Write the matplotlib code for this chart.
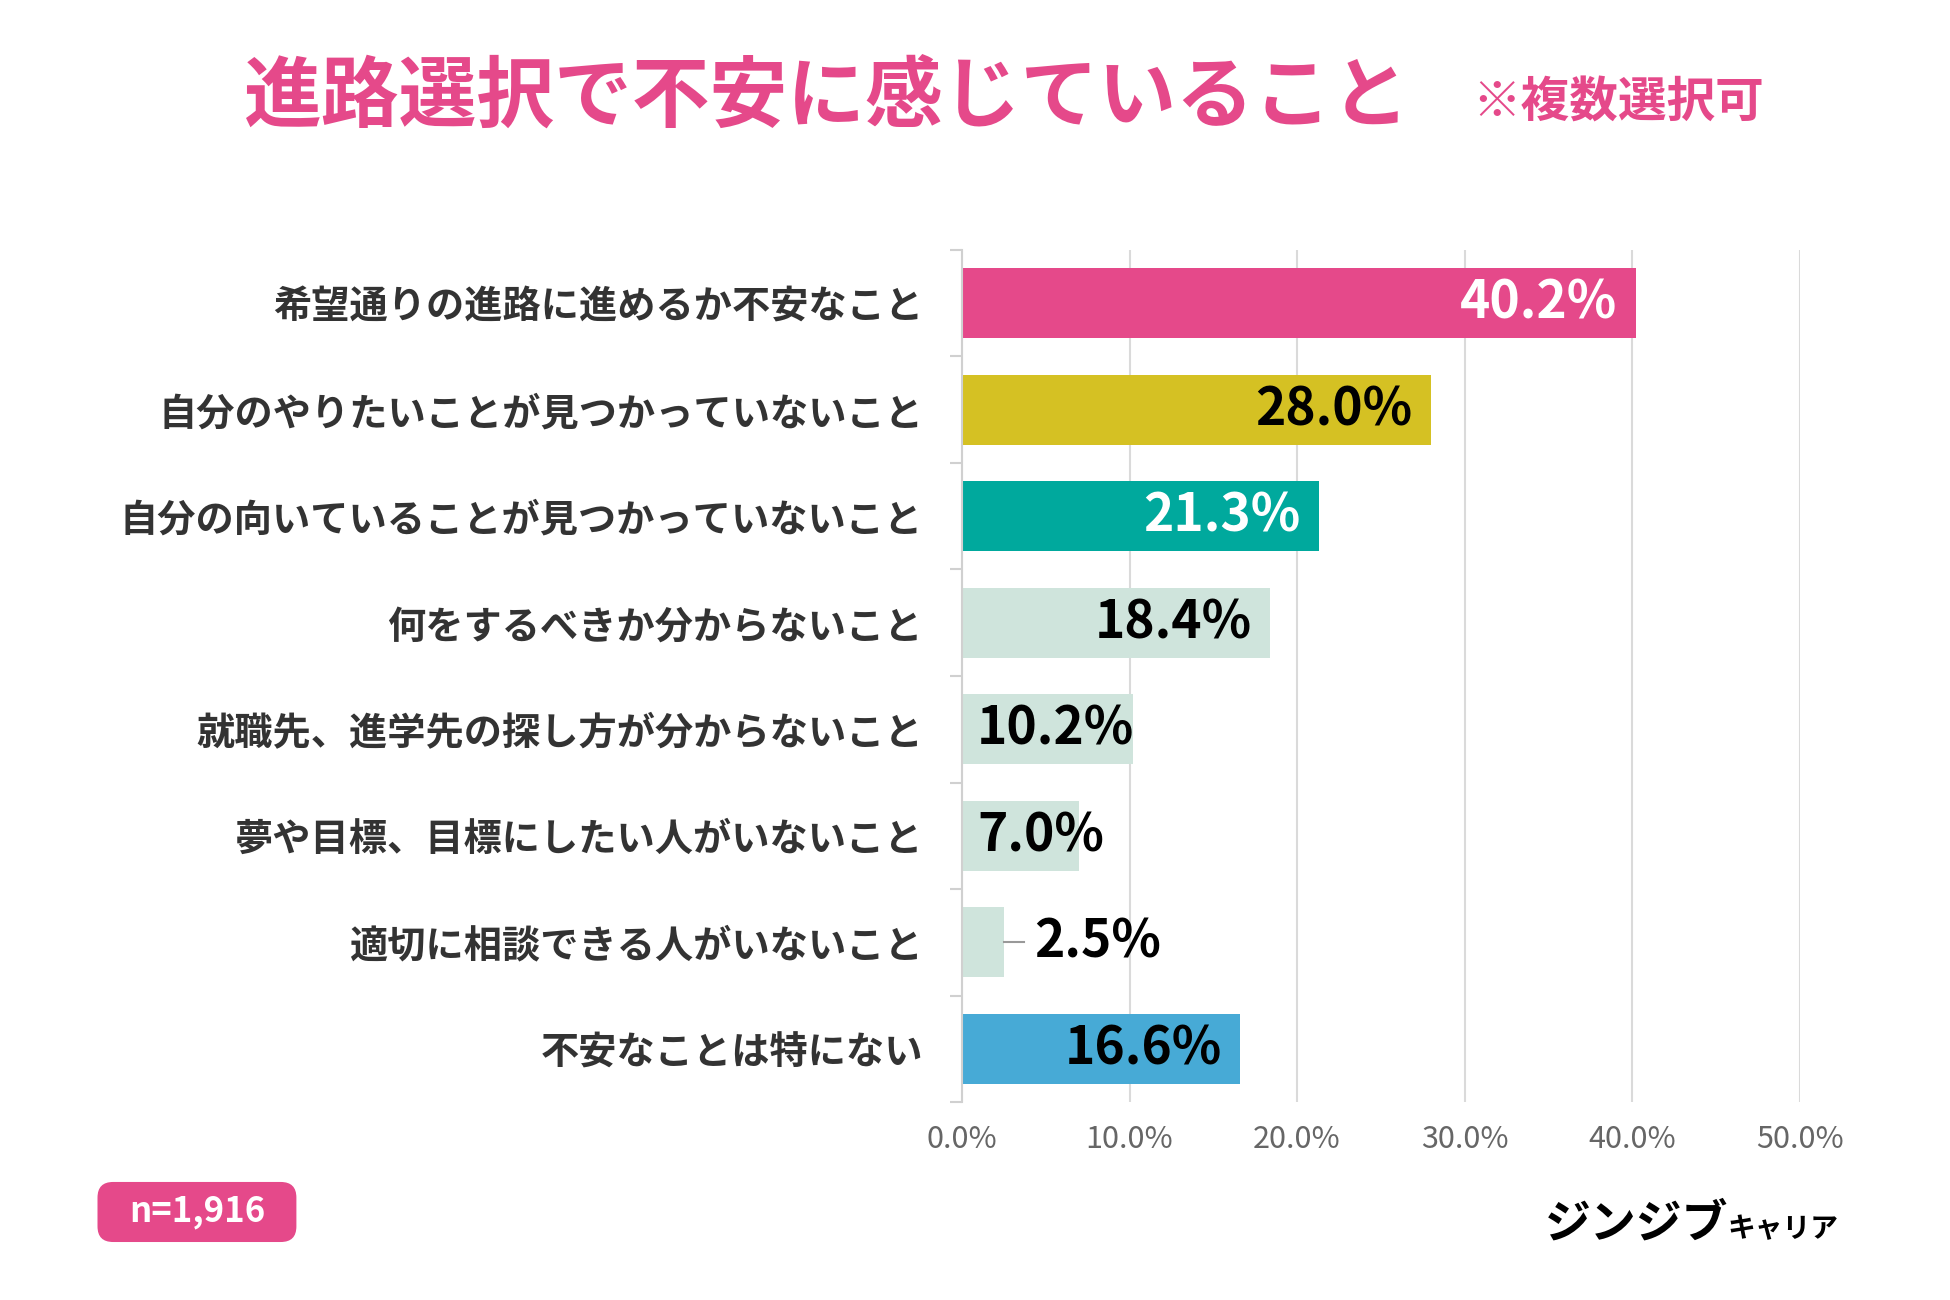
import matplotlib
matplotlib.use("Agg")
import matplotlib.pyplot as plt
from matplotlib.patches import FancyBboxPatch

plt.rcParams['font.family'] = ['Noto Sans CJK JP', 'DejaVu Sans']

# data
categories = [
    "希望通りの進路に進めるか不安なこと",
    "自分のやりたいことが見つかっていないこと",
    "自分の向いていることが見つかっていないこと",
    "何をするべきか分からないこと",
    "就職先、進学先の探し方が分からないこと",
    "夢や目標、目標にしたい人がいないこと",
    "適切に相談できる人がいないこと",
    "不安なことは特にない",
]
values = [40.2, 28.0, 21.3, 18.4, 10.2, 7.0, 2.5, 16.6]
x_ticks = [0, 10, 20, 30, 40, 50]
n_label = "n=1,916"

PINK = "#E5498A"
bar_colors = [PINK, "#D5C123", "#00A99D", "#CFE4DC", "#CFE4DC", "#CFE4DC", "#CFE4DC", "#47AAD6"]
label_colors = ["white", "black", "white", "black", "black", "black", "black", "black"]

fig = plt.figure(figsize=(19.5, 13), dpi=100)
ax = fig.add_axes([0.4933, 0.1523, 0.4297, 0.6554])

y = list(range(len(categories)))
ax.barh(y, values, height=0.66, color=bar_colors, zorder=2)
ax.set_ylim(len(categories) - 0.5, -0.5)
ax.set_xlim(0, 50)

# grid and axes
ax.set_xticks(x_ticks)
ax.set_xticklabels([f"{t:.1f}%" for t in x_ticks], fontsize=22, color="#666666")
ax.tick_params(axis="x", length=0, pad=16)
ax.xaxis.grid(True, color="#DADADA", linewidth=1.5, zorder=0)
for s in ["top", "right", "bottom"]:
    ax.spines[s].set_visible(False)
ax.spines["left"].set_color("#D0D0D0")
ax.spines["left"].set_linewidth(1.5)

ax.set_yticks(y)
ax.set_yticklabels(categories, fontsize=27.5, fontweight="bold", color="#333333")
ax.tick_params(axis="y", length=0, pad=28)
ax.set_yticks([i - 0.5 for i in range(len(categories) + 1)], minor=True)
ax.tick_params(axis="y", which="minor", length=9, color="#D0D0D0", width=1.5)

# value labels
for i, v in enumerate(values):
    txt = f"{v:.1f}%"
    if v >= 15:
        ax.text(v - 1.1, i, txt, ha="right", va="center", fontsize=37,
                fontweight="bold", color=label_colors[i], zorder=3)
    elif v >= 5:
        ax.text(0.9, i, txt, ha="left", va="center", fontsize=37,
                fontweight="bold", color=label_colors[i], zorder=3)
    else:
        ax.plot([v, v + 1.2], [i, i], color="#999999", linewidth=1.5, zorder=3)
        ax.text(v + 1.8, i, txt, ha="left", va="center", fontsize=37,
                fontweight="bold", color=label_colors[i], zorder=3)

# title
fig.text(0.125, 0.925, "進路選択で不安に感じていること", fontsize=56, fontweight="bold",
         color=PINK, ha="left", va="center")
fig.text(0.755, 0.921, "※複数選択可", fontsize=35, fontweight="bold",
         color=PINK, ha="left", va="center")

# sample size box
box = FancyBboxPatch((0.050, 0.0446), 0.102, 0.0462, boxstyle="round,pad=0,rounding_size=0.008",
                     transform=fig.transFigure, facecolor=PINK, edgecolor="none",
                     mutation_aspect=1.5)
fig.patches.append(box)
fig.text(0.101, 0.0677, n_label, fontsize=25, fontweight="bold", color="white",
         ha="center", va="center")

# logo
fig.text(0.792, 0.048, "ジンジブ", fontsize=33, fontweight="bold", color="black",
         ha="left", va="baseline", style="italic")
fig.text(0.886, 0.048, "キャリア", fontsize=20, fontweight="bold", color="black",
         ha="left", va="baseline")

fig.savefig("out.png", dpi=100, facecolor="white")
